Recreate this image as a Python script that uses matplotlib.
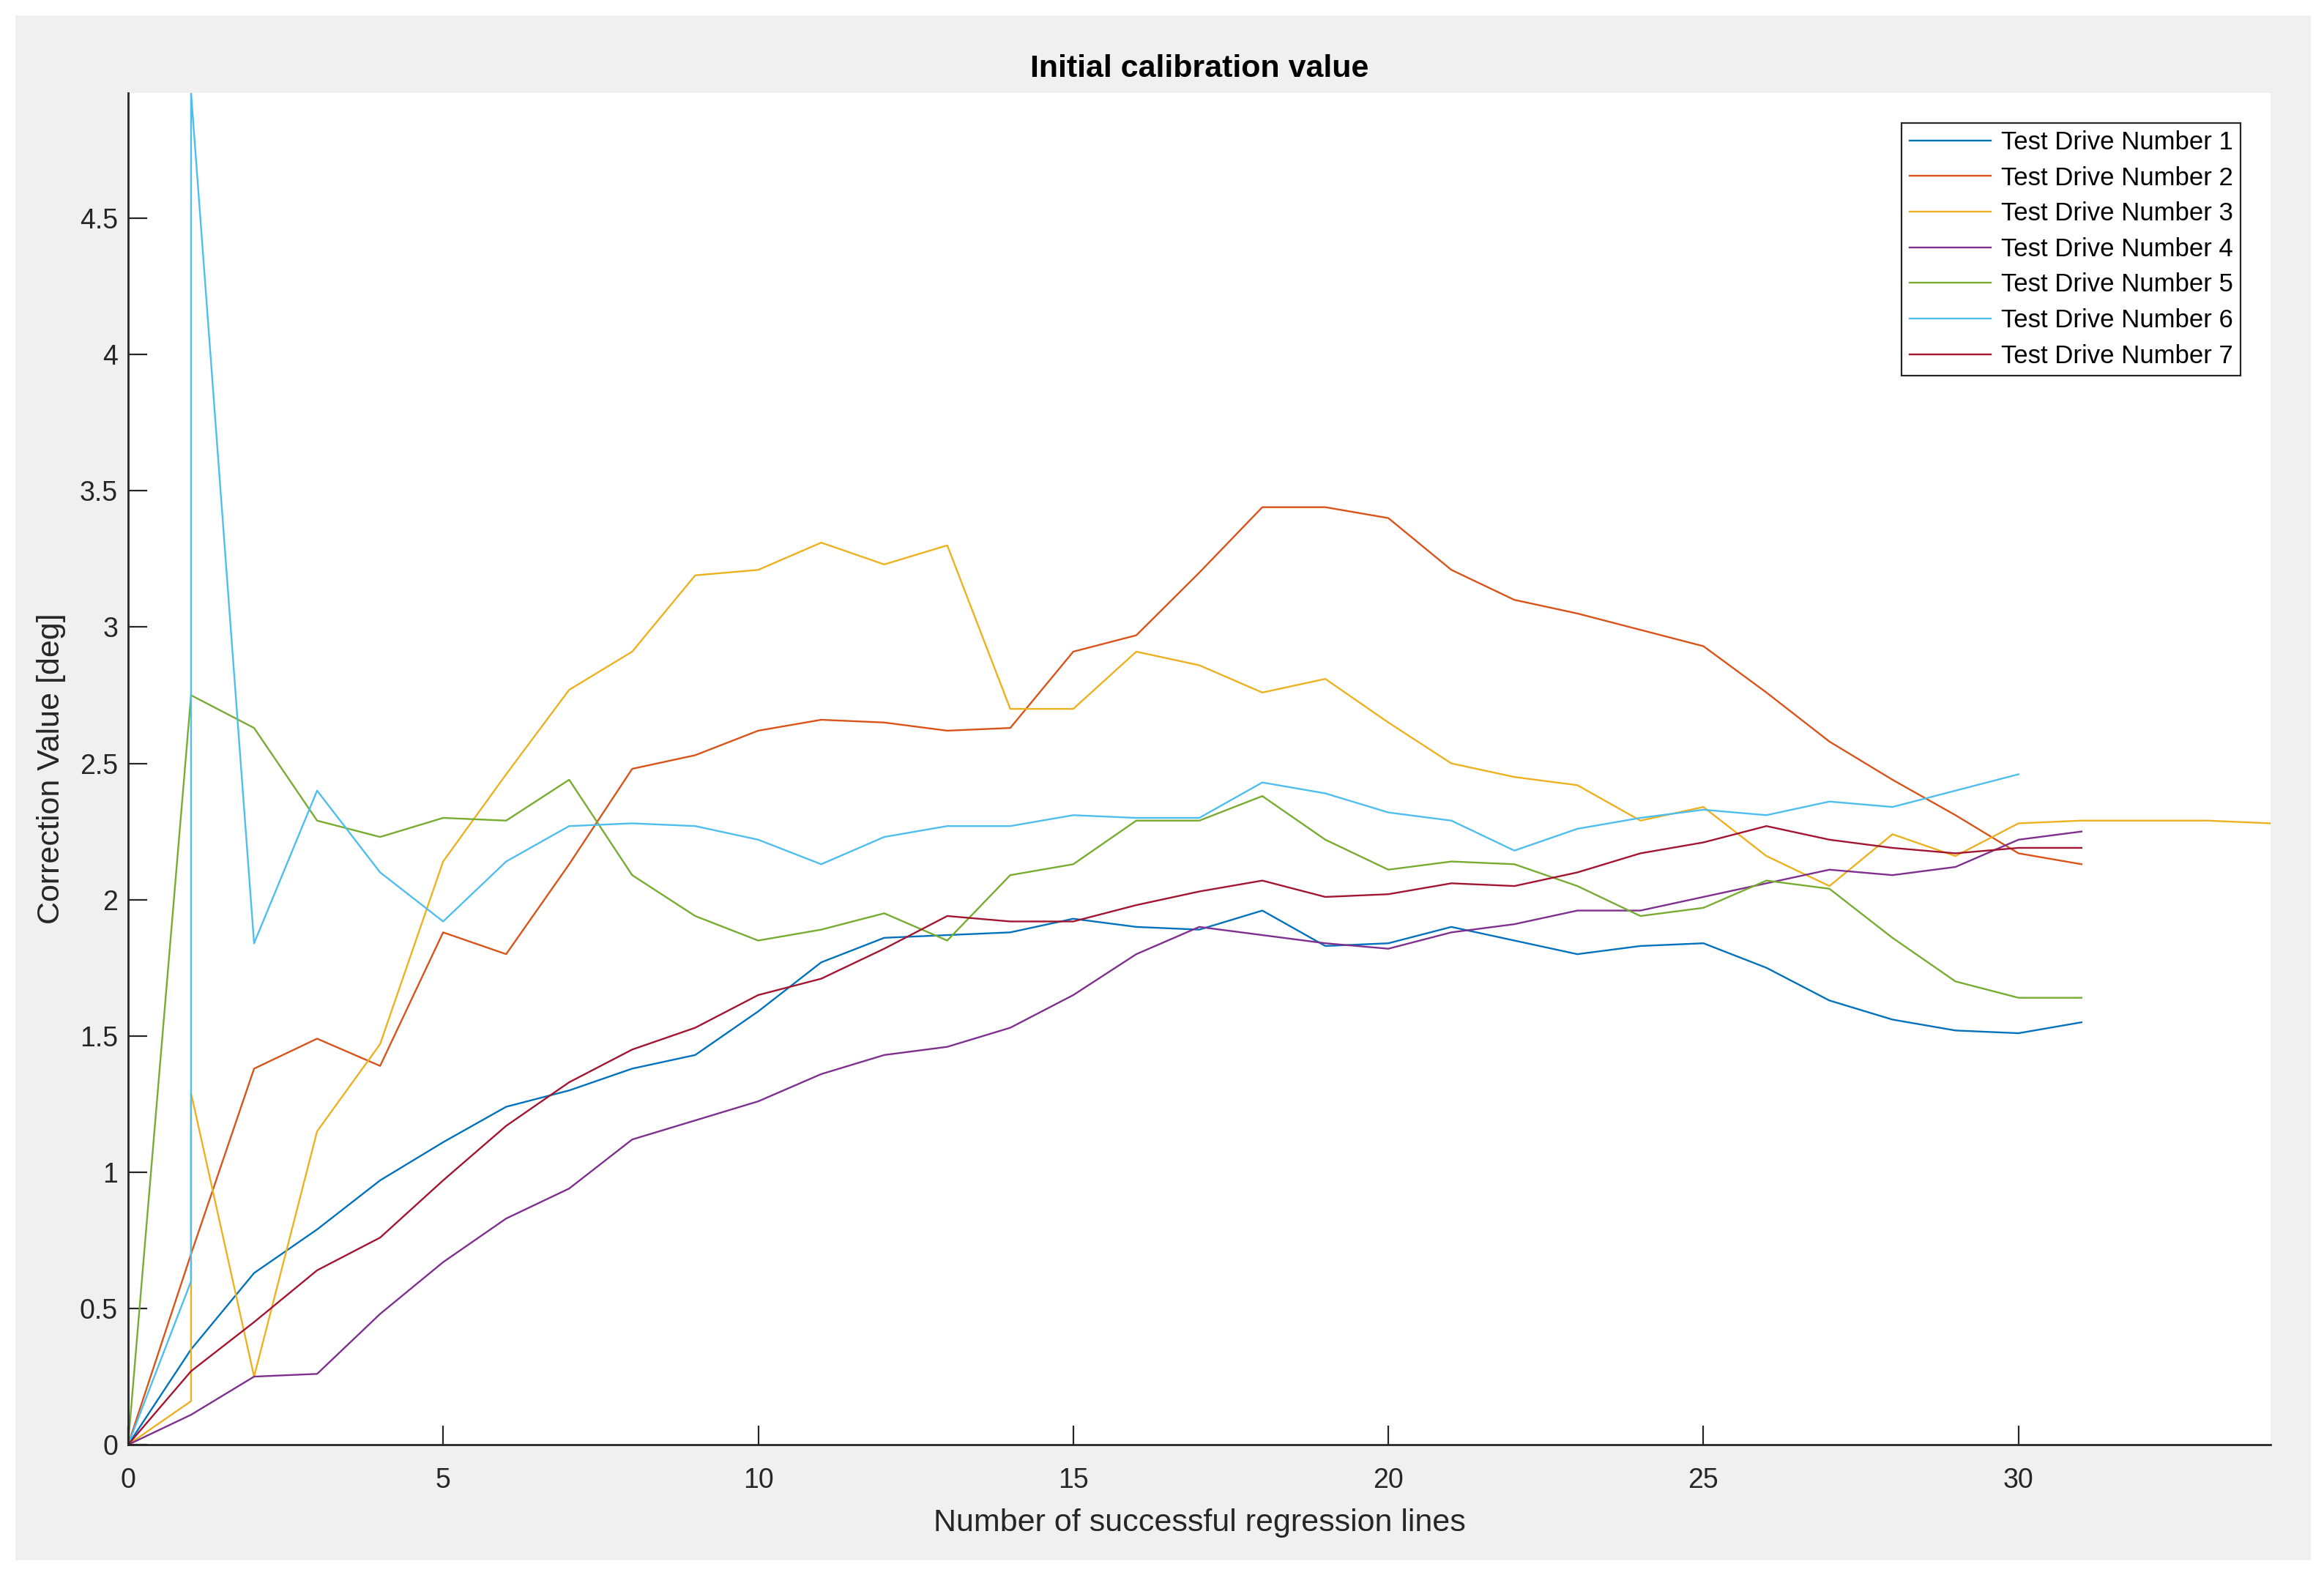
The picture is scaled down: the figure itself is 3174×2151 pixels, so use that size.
#!/usr/bin/env python3
"""
Initial calibration value per test drive, plotted over the number of
successful regression lines. Output: out.png
"""
import matplotlib
matplotlib.use("Agg")
import matplotlib.pyplot as plt
import matplotlib.ticker as ticker
from matplotlib.patches import Rectangle

# ── data ──
x_std = list(range(0, 32))

drive1 = [0, 0.35, 0.63, 0.79, 0.97, 1.11, 1.24, 1.30, 1.38, 1.43, 1.59,
          1.77, 1.86, 1.87, 1.88, 1.93, 1.90, 1.89, 1.96, 1.83, 1.84,
          1.90, 1.85, 1.80, 1.83, 1.84, 1.75, 1.63, 1.56, 1.52, 1.51, 1.55]
drive2 = [0, 0.70, 1.38, 1.49, 1.39, 1.88, 1.80, 2.13, 2.48, 2.53, 2.62,
          2.66, 2.65, 2.62, 2.63, 2.91, 2.97, 3.20, 3.44, 3.44, 3.40,
          3.21, 3.10, 3.05, 2.99, 2.93, 2.76, 2.58, 2.44, 2.31, 2.17, 2.13]
x_drive3 = [0, 1, 1] + list(range(2, 35))
drive3 = [0, 0.16, 1.29, 0.25, 1.15, 1.47, 2.14, 2.46, 2.77, 2.91, 3.19, 3.21,
          3.31, 3.23, 3.30, 2.70, 2.70, 2.91, 2.86, 2.76, 2.81, 2.65,
          2.50, 2.45, 2.42, 2.29, 2.34, 2.16, 2.05, 2.24, 2.16, 2.28,
          2.29, 2.29, 2.29, 2.28]
drive4 = [0, 0.11, 0.25, 0.26, 0.48, 0.67, 0.83, 0.94, 1.12, 1.19, 1.26,
          1.36, 1.43, 1.46, 1.53, 1.65, 1.80, 1.90, 1.87, 1.84, 1.82,
          1.88, 1.91, 1.96, 1.96, 2.01, 2.06, 2.11, 2.09, 2.12, 2.22, 2.25]
drive5 = [0, 2.75, 2.63, 2.29, 2.23, 2.30, 2.29, 2.44, 2.09, 1.94, 1.85,
          1.89, 1.95, 1.85, 2.09, 2.13, 2.29, 2.29, 2.38, 2.22, 2.11,
          2.14, 2.13, 2.05, 1.94, 1.97, 2.07, 2.04, 1.86, 1.70, 1.64, 1.64]
x_drive6 = [0, 1, 1] + list(range(2, 31))
drive6 = [0, 0.60, 4.96, 1.84, 2.40, 2.10, 1.92, 2.14, 2.27, 2.28, 2.27, 2.22,
          2.13, 2.23, 2.27, 2.27, 2.31, 2.30, 2.30, 2.43, 2.39, 2.32,
          2.29, 2.18, 2.26, 2.30, 2.33, 2.31, 2.36, 2.34, 2.40, 2.46]
drive7 = [0, 0.27, 0.45, 0.64, 0.76, 0.97, 1.17, 1.33, 1.45, 1.53, 1.65,
          1.71, 1.82, 1.94, 1.92, 1.92, 1.98, 2.03, 2.07, 2.01, 2.02,
          2.06, 2.05, 2.10, 2.17, 2.21, 2.27, 2.22, 2.19, 2.17, 2.19, 2.19]

series = [
    (x_std,    drive1, "Test Drive Number 1", "#0072BD"),
    (x_std,    drive2, "Test Drive Number 2", "#D95319"),
    (x_drive3, drive3, "Test Drive Number 3", "#EDB120"),
    (x_std,    drive4, "Test Drive Number 4", "#7E2F8E"),
    (x_std,    drive5, "Test Drive Number 5", "#77AC30"),
    (x_drive6, drive6, "Test Drive Number 6", "#4DBEEE"),
    (x_std,    drive7, "Test Drive Number 7", "#A2142F"),
]

x_ticks = [0, 5, 10, 15, 20, 25, 30]
y_ticks = [0, 0.5, 1, 1.5, 2, 2.5, 3, 3.5, 4, 4.5]

plt.rcParams["font.family"] = ["Liberation Sans", "DejaVu Sans"]

# ── figure ──
fig = plt.figure(figsize=(31.74, 21.51), dpi=100, facecolor="white")
# grey MATLAB-style panel with a thin white margin
fig.patches.append(Rectangle((0.0066, 0.0093), 0.9877, 0.981,
                             transform=fig.transFigure, facecolor="#F0F0F0",
                             edgecolor="none", zorder=-10))
ax = fig.add_axes([0.0551, 0.0827, 0.9219, 0.8583])
ax.set_facecolor("white")

for xs, ys, label, color in series:
    ax.plot(xs, ys, color=color, linewidth=1.7, label=label)

# axis tight
ax.set_xlim(0, max(x_drive3))
ax.set_ylim(0, max(max(s[1]) for s in series))

ax.set_xticks(x_ticks)
ax.set_yticks(y_ticks)
ax.yaxis.set_major_formatter(ticker.FuncFormatter(lambda v, p: f"{v:g}"))

for side in ("top", "right"):
    ax.spines[side].set_visible(False)
for side in ("left", "bottom"):
    ax.spines[side].set_linewidth(2.0)
    ax.spines[side].set_color("#262626")

ax.tick_params(axis="both", direction="in", length=19, width=1.6,
               colors="#262626", labelsize=27)
ax.tick_params(axis="x", pad=22)
ax.tick_params(axis="y", pad=10)

ax.set_xlabel("Number of successful regression lines", fontsize=31, color="#262626")
ax.set_ylabel("Correction Value [deg]", fontsize=31, color="#262626")
ax.xaxis.set_label_coords(0.5, -0.047)
ax.yaxis.set_label_coords(-0.029, 0.5)
ax.set_title("Initial calibration value", fontsize=31, fontweight="bold", pad=16)

leg = ax.legend(loc="upper right", bbox_to_anchor=(0.986, 0.978), borderaxespad=0,
                fontsize=25, frameon=True, fancybox=False, handlelength=3.2,
                handletextpad=0.4, labelspacing=0.45, borderpad=0.3)
leg.get_frame().set_edgecolor("#262626")
leg.get_frame().set_linewidth(1.6)
leg.get_frame().set_facecolor("white")
leg.get_frame().set_alpha(1)

fig.savefig("out.png", dpi=100, facecolor=fig.get_facecolor())
